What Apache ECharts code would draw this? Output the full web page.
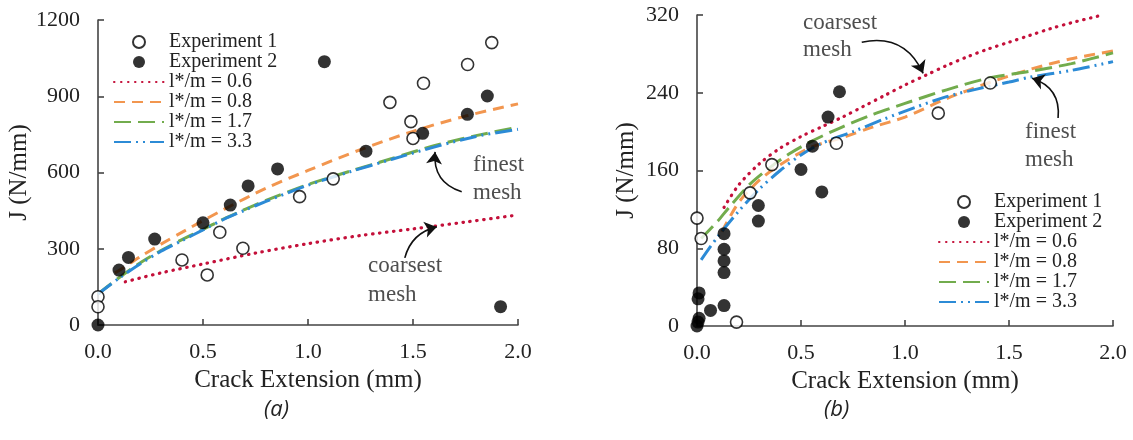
<!DOCTYPE html>
<html>
<head>
<meta charset="utf-8">
<script src="https://cdn.jsdelivr.net/npm/echarts@6/dist/echarts.min.js"></script>
<style>
  html, body { margin: 0; padding: 0; background: #fff; }
  #chart { width: 1133px; height: 440px; }
</style>
</head>
<body>
<div id="chart"></div>
<script>
// ---- Panel (a): J vs crack extension ----
const aExp1 = [[0,111],[0,72],[0.40,256],[0.52,197],[0.58,365],[0.69,302],[0.96,505],[1.12,575],[1.39,876],[1.49,800],[1.50,734],[1.55,951],[1.76,1025],[1.875,1111]];
const aExp2 = [[0,0],[0.10,216],[0.145,266],[0.27,338],[0.50,402],[0.63,472],[0.715,547],[0.855,614],[1.078,1036],[1.276,684],[1.546,754],[1.759,829],[1.854,901],[1.917,72]];
const aM06 = [[0.13,170],[0.3,205],[0.5,240],[0.75,283],[1.0,320],[1.25,352],[1.5,378],[1.75,405],[2.0,433]];
const aM08 = [[0.08,205],[0.1,214],[0.2,268],[0.3,318],[0.42,374],[0.6,455],[0.8,538],[1.0,608],[1.25,690],[1.5,762],[1.75,822],[2.0,870]];
const aM17 = [[0,122],[0.1,186],[0.2,244],[0.3,293],[0.4,336],[0.5,376],[0.6,418],[0.7,455],[0.8,490],[1.0,553],[1.2,605],[1.4,655],[1.6,705],[1.8,745],[2.0,778]];
const aM33 = [[0,122],[0.1,184],[0.2,240],[0.3,290],[0.4,332],[0.5,374],[0.6,416],[0.7,452],[0.8,486],[1.0,550],[1.2,603],[1.4,652],[1.6,700],[1.8,742],[2.0,770]];

// ---- Panel (b) ----
const bExp1 = [[0,111],[0.02,90],[0.19,4],[0.255,137],[0.36,166],[0.67,188],[1.16,219],[1.41,250]];
const bExp2 = [[0,0],[0.005,4],[0.01,8],[0.005,28],[0.01,34],[0.065,16],[0.13,21],[0.13,55],[0.13,67],[0.13,79],[0.13,95],[0.295,108],[0.295,124],[0.50,161],[0.555,185],[0.60,138],[0.63,215],[0.685,241]];
const bM06 = [[0.13,122],[0.2,145],[0.3,167],[0.4,183],[0.5,195],[0.6,205],[0.7,215],[0.8,226],[0.9,237],[1.0,248],[1.1,258],[1.2,268],[1.3,277],[1.4,285],[1.5,292],[1.6,299],[1.7,306],[1.8,312],[1.93,319]];
const bM08 = [[0.12,97],[0.2,127],[0.3,150],[0.4,166],[0.55,184],[0.7,194],[0.85,205],[1.0,215],[1.2,234],[1.4,250],[1.6,264],[1.8,275],[2.0,283]];
const bM17 = [[0.02,90],[0.1,108],[0.15,121],[0.25,145],[0.35,163],[0.45,178],[0.55,190],[0.7,205],[0.85,218],[1.0,229],[1.2,243],[1.4,255],[1.6,262],[1.8,270],[2.0,281]];
const bM33 = [[0.02,68],[0.1,92],[0.2,118],[0.3,141],[0.4,160],[0.5,176],[0.6,188],[0.75,200],[0.9,213],[1.05,225],[1.2,236],[1.35,244],[1.5,251],[1.6,256],[1.8,263],[2.0,272]];

const pointNames = ['Experiment 1', 'Experiment 2'];
const curveNames = ['l*/m = 0.6', 'l*/m = 0.8', 'l*/m = 1.7', 'l*/m = 3.3'];
const xTickLabels = ['0.0', '0.5', '1.0', '1.5', '2.0'];

const SERIF = '"Liberation Serif", "Times New Roman", serif';
const INK = '#222';
const AXIS = '#444';

const styles = {
  'l*/m = 0.6': { color: '#C4103A', width: 3.2, type: [0.5, 6.5], cap: 'round' },
  'l*/m = 0.8': { color: '#F2964F', width: 3, type: [11, 7], cap: 'butt' },
  'l*/m = 1.7': { color: '#72AC4D', width: 3, type: [17, 7], cap: 'butt' },
  'l*/m = 3.3': { color: '#2C8BD6', width: 3, type: [17, 5, 2, 5, 2, 5], cap: 'butt' }
};

function curve(name, data, idx) {
  const s = styles[name];
  return {
    name, type: 'line', xAxisIndex: idx, yAxisIndex: idx, data,
    symbol: 'none', smooth: 0.3, z: 2,
    itemStyle: { color: s.color },
    lineStyle: { color: s.color, width: s.width, type: s.type, cap: s.cap }
  };
}
function points(name, data, idx, filled) {
  return {
    name, type: 'scatter', xAxisIndex: idx, yAxisIndex: idx, data,
    symbol: 'circle', symbolSize: filled ? 13 : 12, clip: false, z: 4,
    itemStyle: filled
      ? { color: '#000' }
      : { color: '#fff', borderColor: '#000', borderWidth: 1.6 }
  };
}
function note(text, pos, idx, lh) {
  return {
    type: 'scatter', xAxisIndex: idx, yAxisIndex: idx, data: [pos],
    symbolSize: 0, clip: false, silent: true, z: 5,
    label: {
      show: true, position: 'right', distance: 0, formatter: text,
      fontFamily: SERIF, fontSize: 23, color: INK, lineHeight: lh, align: 'left'
    }
  };
}
function arrow(from, to, curveness, idx) {
  return {
    type: 'lines', coordinateSystem: 'cartesian2d', xAxisIndex: idx, yAxisIndex: idx,
    silent: true, z: 5,
    symbol: ['none', 'arrow'], symbolSize: [9, 12],
    lineStyle: { color: '#111', width: 1.6, curveness, opacity: 1 },
    data: [{ coords: [from, to] }]
  };
}

function xAxis(idx) {
  return {
    type: 'value', gridIndex: idx, min: 0, max: 2, interval: 0.5,
    name: 'Crack Extension (mm)', nameLocation: 'middle', nameGap: 38,
    nameTextStyle: { fontFamily: SERIF, fontSize: 25, color: INK },
    axisLine: { show: true, lineStyle: { color: AXIS, width: 1.6 } },
    axisTick: { show: true, inside: true, length: 6, lineStyle: { color: AXIS, width: 1.6 } },
    axisLabel: {
      fontFamily: SERIF, fontSize: 22, color: INK, margin: 16,
      formatter: (v) => xTickLabels[Math.round(v / 0.5)]
    },
    splitLine: { show: false }
  };
}
function yAxis(idx, max, interval, gap) {
  return {
    type: 'value', gridIndex: idx, min: 0, max, interval,
    name: 'J (N/mm)', nameLocation: 'middle', nameGap: gap, nameRotate: 90,
    nameTextStyle: { fontFamily: SERIF, fontSize: 25, color: INK },
    axisLine: { show: true, lineStyle: { color: AXIS, width: 1.6 } },
    axisTick: { show: true, inside: true, length: 6, lineStyle: { color: AXIS, width: 1.6 } },
    axisLabel: { fontFamily: SERIF, fontSize: 22, color: INK, margin: 18, formatter: (v) => String(v) },
    splitLine: { show: false }
  };
}
// Curve entries show only the dashed stroke, without a marker in the middle
function legend(left, top) {
  return {
    data: pointNames.map((n) => ({ name: n }))
      .concat(curveNames.map((n) => ({ name: n, itemStyle: { opacity: 0 } }))),
    orient: 'vertical', left, top,
    itemWidth: 50, itemHeight: 12, itemGap: 0, selectedMode: false,
    textStyle: { fontFamily: SERIF, fontSize: 20, color: INK, lineHeight: 19.5 },
    padding: 0
  };
}

const chart = echarts.init(document.getElementById('chart'), null, { renderer: 'canvas' });
chart.setOption({
  backgroundColor: '#fff',
  animation: false,
  grid: [
    { left: 98, top: 20, width: 420, height: 305 },
    { left: 697, top: 15, width: 416, height: 311 }
  ],
  xAxis: [xAxis(0), xAxis(1)],
  yAxis: [yAxis(0, 1200, 300, 63), yAxis(1, 320, 80, 58)],
  legend: [legend(113, 32), legend(938, 192)],
  series: [
    curve('l*/m = 0.6', aM06, 0),
    curve('l*/m = 0.8', aM08, 0),
    curve('l*/m = 1.7', aM17, 0),
    curve('l*/m = 3.3', aM33, 0),
    points('Experiment 1', aExp1, 0, false),
    points('Experiment 2', aExp2, 0, true),
    note('coarsest\nmesh', [1.286, 175], 0, 29),
    note('finest\nmesh', [1.786, 574], 0, 28),
    arrow([1.461, 264], [1.613, 386], 0.3, 0),
    arrow([1.732, 524], [1.605, 681], 0.4, 0),

    curve('l*/m = 0.6', bM06, 1),
    curve('l*/m = 0.8', bM08, 1),
    curve('l*/m = 1.7', bM17, 1),
    curve('l*/m = 3.3', bM33, 1),
    points('Experiment 1', bExp1, 1, false),
    points('Experiment 2', bExp2, 1, true),
    note('coarsest\nmesh', [0.51, 298], 1, 27),
    note('finest\nmesh', [1.577, 185], 1, 28),
    arrow([0.792, 292], [1.087, 260], 0.4, 1),
    arrow([1.736, 214], [1.611, 255], -0.4, 1)
  ],
  graphic: [
    { type: 'text', left: 264, top: 399, style: { text: '(a)', font: 'italic 22px "Open Sans", sans-serif', fill: INK } },
    { type: 'text', left: 824, top: 399, style: { text: '(b)', font: 'italic 22px "Open Sans", sans-serif', fill: INK } }
  ]
});
</script>
</body>
</html>
